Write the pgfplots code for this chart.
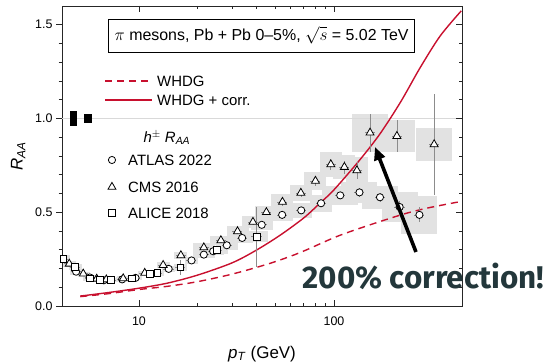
\documentclass[border=0pt]{standalone}
\usepackage{fontspec}
\setmainfont{Liberation Sans}
\newfontfamily\fira{Fira Sans}
\usepackage{pgfplots}
\pgfplotsset{compat=1.18}
\usepackage{pgfplotstable}
\usetikzlibrary{arrows.meta}
\definecolor{whdg}{RGB}{200,16,46}
\definecolor{mdteal}{HTML}{23373B}
\definecolor{boxgray}{RGB}{226,226,226}
\definecolor{errgray}{RGB}{140,140,140}

% CMS 2016 (x, R_AA, stat)
\pgfplotstableread{
x y stat
4.39 0.225 0.003
5.18 0.172 0.003
6.07 0.145 0.003
6.8 0.141 0.003
8.3 0.147 0.003
10.7 0.176 0.004
13.3 0.218 0.005
16.4 0.270 0.006
21.5 0.312 0.008
26.3 0.350 0.010
32.0 0.398 0.012
38.4 0.448 0.015
45.0 0.500 0.015
54.4 0.555 0.020
67.6 0.603 0.020
80.3 0.667 0.025
96.3 0.755 0.030
113 0.741 0.035
131 0.723 0.045
153 0.924 0.100
210 0.906 0.085
326 0.862 0.270
}\cms

% ATLAS 2022
\pgfplotstableread{
x y stat
4.76 0.183 0.003
5.6 0.152 0.003
6.6 0.137 0.003
8.2 0.142 0.003
9.6 0.150 0.003
14.2 0.198 0.004
18.6 0.243 0.005
21.5 0.274 0.006
24.0 0.292 0.007
28.2 0.324 0.008
33.8 0.363 0.010
42.6 0.433 0.012
54.2 0.486 0.014
67.9 0.510 0.015
85.8 0.548 0.018
107.6 0.590 0.020
135 0.606 0.022
172 0.580 0.025
217 0.528 0.030
274 0.486 0.040
}\atlas

% ALICE 2018
\pgfplotstableread{
x y stat
4.1 0.250 0.004
4.7 0.207 0.003
5.6 0.148 0.003
6.3 0.140 0.003
7.2 0.138 0.003
9.2 0.148 0.003
11.4 0.172 0.004
12.4 0.175 0.005
16.3 0.205 0.040
25.0 0.298 0.010
40.1 0.369 0.160
}\alice

% systematic boxes, grouped by drawn width
\pgfplotstableread{
x y sys
4.39 0.225 0.015
5.18 0.172 0.012
6.07 0.145 0.011
6.8 0.141 0.011
8.3 0.147 0.011
10.7 0.176 0.013
13.3 0.218 0.016
16.4 0.270 0.020
4.76 0.183 0.015
5.6 0.152 0.012
6.6 0.137 0.011
8.2 0.142 0.011
9.6 0.150 0.012
14.2 0.198 0.015
18.6 0.243 0.018
4.1 0.250 0.020
4.7 0.207 0.015
5.6 0.148 0.012
6.3 0.140 0.011
7.2 0.138 0.011
9.2 0.148 0.011
11.4 0.172 0.013
12.4 0.175 0.014
16.3 0.205 0.018
}\boxA
\pgfplotstableread{
x y sys
21.5 0.312 0.022
26.3 0.350 0.025
32.0 0.398 0.028
38.4 0.448 0.032
45.0 0.500 0.035
54.4 0.555 0.040
67.6 0.603 0.045
80.3 0.667 0.050
96.3 0.755 0.065
113 0.741 0.065
131 0.723 0.070
21.5 0.274 0.020
24.0 0.292 0.022
28.2 0.324 0.024
33.8 0.363 0.027
42.6 0.433 0.030
54.2 0.486 0.035
67.9 0.510 0.040
85.8 0.548 0.045
25.0 0.298 0.022
40.1 0.369 0.030
}\boxB
\pgfplotstableread{
x y sys
153 0.924 0.100
210 0.906 0.085
326 0.862 0.087
107.6 0.590 0.050
135 0.606 0.055
172 0.580 0.060
217 0.528 0.080
274 0.486 0.100
}\boxC

\begin{document}
\begin{tikzpicture}
\useasboundingbox (-62bp,-57bp) rectangle (490bp,306bp);
\begin{axis}[
  scale only axis, width=400bp, height=300bp,
  xmode=log, xmin=4.03, xmax=453, ymin=0, ymax=1.6,
  axis line style={line width=0.8bp, black!85},
  major tick length=6bp, minor tick length=3.5bp,
  every tick/.style={black!85, line width=0.7bp},
  /pgf/number format/assume math mode=true,
  tick label style={font=\fontsize{12.5}{14}\selectfont},
  xtick={10,100}, log ticks with fixed point,
  xtick align=inside,
  xticklabel style={yshift=-7bp},
  ytick={0,0.5,1,1.5}, minor y tick num=4,
  ytick pos=left, ytick align=outside,
  yticklabel style={/pgf/number format/fixed, /pgf/number format/fixed zerofill, /pgf/number format/precision=1},
  xlabel={\textit{p}\textsubscript{\textit{T}} (GeV)},
  xlabel style={at={(rel axis cs:0.5,0)}, anchor=base, yshift=-52bp},
  ylabel={\textit{R}\textsubscript{\textit{AA}}},
  ylabel shift=3bp,
  label style={font=\fontsize{17}{19}\selectfont},
]
% systematic boxes
\addplot[only marks, mark=none, error bars/.cd, y dir=both, y explicit, error mark=none,
  error bar style={line width=13bp, draw=boxgray}] table[x=x, y=y, y error=sys]{\boxA};
\addplot[only marks, mark=none, error bars/.cd, y dir=both, y explicit, error mark=none,
  error bar style={line width=22bp, draw=boxgray}] table[x=x, y=y, y error=sys]{\boxB};
\addplot[only marks, mark=none, error bars/.cd, y dir=both, y explicit, error mark=none,
  error bar style={line width=36bp, draw=boxgray}] table[x=x, y=y, y error=sys]{\boxC};
% unity line
\addplot[black!15, line width=1.5bp] coordinates {(4.03,1) (453,1)};
% normalisation boxes
\addplot[only marks, mark=none, error bars/.cd, y dir=both, y explicit, error mark=none,
  error bar style={line width=6.7bp, draw=black}] coordinates {(4.6,1) +- (0,0.039)};
\addplot[only marks, mark=none, error bars/.cd, y dir=both, y explicit, error mark=none,
  error bar style={line width=7.3bp, draw=black}] coordinates {(5.47,1) +- (0,0.025)};
% WHDG curves
\addplot[color=whdg, line width=1.4bp, dash pattern=on 7bp off 5bp, smooth] coordinates {
(5,0.050) (7,0.066) (10,0.088) (14,0.105) (20,0.130) (30,0.170) (46.8,0.227)
(67,0.285) (103,0.370) (150,0.430) (227,0.490) (300,0.522) (450,0.558)};
\addplot[color=whdg, line width=1.4bp, smooth] coordinates {
(5,0.053) (7,0.072) (10,0.095) (14,0.122) (20,0.165) (30,0.230) (40,0.298)
(53,0.378) (70,0.470) (85,0.550) (100,0.620) (135,0.777) (172,0.918)
(220,1.090) (276,1.270) (350,1.440) (449,1.574)};
% data
\addplot[only marks, black, mark=*, mark size=3.6bp, mark options={fill=white, line width=0.8bp},
  error bars/.cd, y dir=both, y explicit, x dir=both, x fixed relative=0.06, error mark=none,
  error bar style={errgray, line width=0.7bp}] table[x=x, y=y, y error=stat]{\atlas};
\addplot[only marks, black, mark=triangle*, mark size=4.6bp, mark options={fill=white, line width=0.8bp},
  error bars/.cd, y dir=both, y explicit, x dir=both, x fixed relative=0.06, error mark=none,
  error bar style={errgray, line width=0.7bp}] table[x=x, y=y, y error=stat]{\cms};
\addplot[only marks, black, mark=square*, mark size=3.3bp, mark options={fill=white, line width=0.8bp},
  error bars/.cd, y dir=both, y explicit, x dir=both, x fixed relative=0.06, error mark=none,
  error bar style={errgray, line width=0.7bp}] table[x=x, y=y, y error=stat]{\alice};
% legend samples (drawn through the axis)
\addplot[color=whdg, line width=1.4bp, dash pattern=on 7bp off 5bp] coordinates {(6.70,1.200) (11.66,1.200)};
\addplot[color=whdg, line width=1.4bp] coordinates {(6.70,1.0987) (11.66,1.0987)};
\addplot[only marks, black, mark=*, mark size=3.6bp, mark options={fill=white, line width=0.8bp}] coordinates {(7.27,0.7787)};
\addplot[only marks, black, mark=triangle*, mark size=4.6bp, mark options={fill=white, line width=0.8bp}] coordinates {(7.27,0.6347)};
\addplot[only marks, black, mark=square*, mark size=3.3bp, mark options={fill=white, line width=0.8bp}] coordinates {(7.27,0.4960)};
\node[anchor=west, inner sep=0pt, font=\fontsize{15}{17}\selectfont] at (rel axis cs:0.2375,0.750) {WHDG};
\node[anchor=west, inner sep=0pt, font=\fontsize{15}{17}\selectfont] at (rel axis cs:0.2375,0.6867) {WHDG + corr.};
\node[anchor=west, inner sep=0pt, font=\fontsize{15}{17}\selectfont] at (rel axis cs:0.165,0.4867) {ATLAS 2022};
\node[anchor=west, inner sep=0pt, font=\fontsize{15}{17}\selectfont] at (rel axis cs:0.165,0.3967) {CMS 2016};
\node[anchor=west, inner sep=0pt, font=\fontsize{15}{17}\selectfont] at (rel axis cs:0.165,0.3100) {ALICE 2018};
% annotations
\node[draw=black, line width=0.8bp, fill=white, inner xsep=6bp, minimum height=33bp,
  font=\fontsize{16}{18}\selectfont] at (rel axis cs:0.499,0.902)
  {$\pi$ mesons, Pb + Pb 0--5\%, $\sqrt{s}$ = 5.02 TeV};
\node[anchor=west, font=\fontsize{15}{17}\selectfont] at (rel axis cs:0.195,0.56)
  {\textit{h}$^{\pm}$ \textit{R}\textsubscript{\textit{AA}}};
\coordinate (arrTail) at (rel axis cs:0.885,0.18);
\coordinate (arrTip) at (rel axis cs:0.7825,0.53);
\coordinate (txt) at (rel axis cs:0.5925,0.06);
\end{axis}
% right-hand ticks pointing inwards
\begin{axis}[
  scale only axis, width=400bp, height=300bp,
  xmin=4.03, xmax=453, ymin=0, ymax=1.6,
  axis line style={line width=0.8bp, black!85},
  major tick length=6bp, minor tick length=3.5bp,
  every tick/.style={black!85, line width=0.7bp},
  axis x line=none, axis y line*=right,
  ytick={0,0.5,1,1.5}, yticklabels={}, minor y tick num=4, ytick align=inside,
]
\end{axis}
\draw[line width=3.6bp, -{Triangle[length=13bp, width=11bp]}] (arrTail) -- (arrTip);
\node[anchor=base west, text=mdteal, font=\fira\bfseries\fontsize{31.5}{34}\selectfont] at (txt) {200\% correction!};
\end{tikzpicture}
\end{document}
